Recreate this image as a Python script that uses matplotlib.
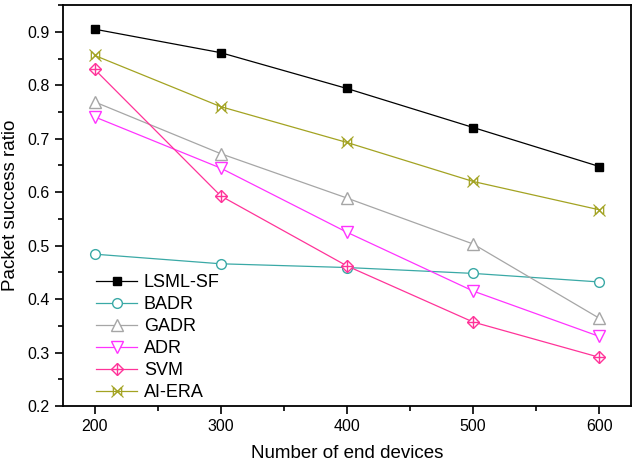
import matplotlib
matplotlib.use("Agg")
import matplotlib.pyplot as plt
from matplotlib.path import Path
from matplotlib.ticker import MultipleLocator

# =========================
# DATA
# =========================
devices = [200, 300, 400, 500, 600]

lsml_sf = [0.905, 0.861, 0.794, 0.721, 0.648]
badr    = [0.484, 0.466, 0.459, 0.448, 0.432]
gadr    = [0.769, 0.672, 0.589, 0.503, 0.364]
adr     = [0.741, 0.645, 0.525, 0.415, 0.330]
svm     = [0.830, 0.593, 0.462, 0.357, 0.291]
ai_era  = [0.856, 0.760, 0.693, 0.620, 0.567]

# sideways bowtie (Origin-like "crossed" marker)
bowtie = Path(
    [(-1, -1), (1, 1), (-1, 1), (1, -1), (-1, -1), (-1, 1), (1, -1), (1, 1)],
    [Path.MOVETO, Path.LINETO, Path.MOVETO, Path.LINETO,
     Path.MOVETO, Path.LINETO, Path.MOVETO, Path.LINETO],
)

plt.rcParams["font.family"] = ["Liberation Sans", "DejaVu Sans"]
plt.rcParams["font.size"] = 12

fig = plt.figure(figsize=(6.36, 4.65), dpi=100)
ax = fig.add_axes([0.099, 0.127, 0.893, 0.862])

lw = 0.9

h1, = ax.plot(devices, lsml_sf, color="#000000", lw=lw, marker="s", ms=6,
              mfc="#000000", mec="#000000")
h2, = ax.plot(devices, badr, color="#3aa9a6", lw=lw, marker="o", ms=7,
              mfc="white", mec="#3aa9a6")
h3, = ax.plot(devices, gadr, color="#a6a6a6", lw=lw, marker="^", ms=8,
              mfc="white", mec="#a6a6a6")
h4, = ax.plot(devices, adr, color="#ff33ff", lw=lw, marker="v", ms=8,
              mfc="white", mec="#ff33ff")
h5a, = ax.plot(devices, svm, color="#ff3399", lw=lw, marker="D", ms=6,
               mfc="white", mec="#ff3399")
h5b, = ax.plot(devices, svm, ls="none", marker="+", ms=8,
               mec="#ff3399", mew=1.0)
h6, = ax.plot(devices, ai_era, color="#a3a322", lw=lw, marker=bowtie,
              ms=6, mec="#a3a322", mew=0.9)
h6b, = ax.plot(devices, ai_era, ls="none", marker="x", ms=8,
               mec="#a3a322", mew=0.8)

ax.legend([h1, h2, h3, h4, (h5a, h5b), (h6, h6b)],
          ["LSML-SF", "BADR", "GADR", "ADR", "SVM", "AI-ERA"],
          loc="lower left", bbox_to_anchor=(0.058, 0.012), frameon=False,
          fontsize=13, handlelength=2.3, labelspacing=0.28,
          borderaxespad=0.0, borderpad=0.0, handletextpad=0.35)

ax.set_xlim(175, 625)
ax.set_ylim(0.2, 0.95)
ax.xaxis.set_major_locator(MultipleLocator(100))
ax.xaxis.set_minor_locator(MultipleLocator(50))
ax.yaxis.set_major_locator(MultipleLocator(0.1))
ax.yaxis.set_minor_locator(MultipleLocator(0.05))
ax.tick_params(which="major", direction="out", length=6, width=1.2, labelsize=11.5)
ax.tick_params(which="minor", direction="out", length=3.5, width=1.2)
ax.tick_params(top=False, right=False, which="both")
for s in ax.spines.values():
    s.set_linewidth(1.3)

ax.set_xlabel("Number of end devices", fontsize=13.5, labelpad=8)
ax.set_ylabel("Packet success ratio", fontsize=13.5, labelpad=6)

fig.savefig("out.png", dpi=100)
